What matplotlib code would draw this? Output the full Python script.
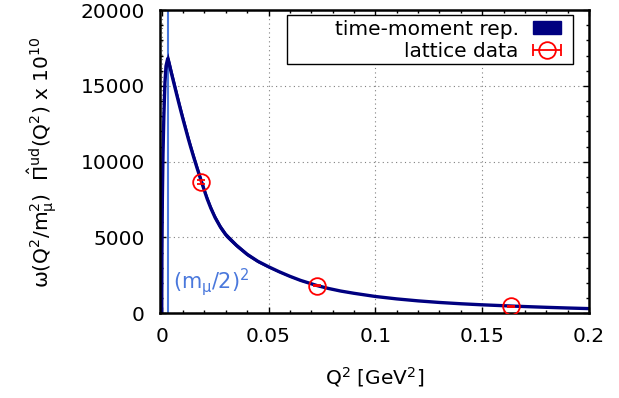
import matplotlib
matplotlib.use('Agg')
import numpy as np
import matplotlib.pyplot as plt
from matplotlib.patches import Patch, Rectangle
from matplotlib.legend_handler import HandlerErrorbar
from matplotlib.ticker import MultipleLocator, FuncFormatter

# band: Q^2 [GeV^2], centre and half width (x 1e10)
q2 = [0, 0.0001, 0.0003, 0.0006, 0.001, 0.0015, 0.002, 0.0028, 0.0035, 0.0045,
      0.006, 0.007, 0.008, 0.009, 0.010, 0.0115, 0.0125, 0.0135, 0.015, 0.0165,
      0.0185, 0.020, 0.0213, 0.023, 0.025, 0.0275, 0.030, 0.0316, 0.035, 0.040,
      0.045, 0.050, 0.055, 0.060, 0.065, 0.0727, 0.078, 0.0837, 0.090, 0.100,
      0.110, 0.120, 0.130, 0.140, 0.150, 0.1636, 0.170, 0.180, 0.190, 0.200]
band_mid = [0, 4000, 7500, 10500, 13000, 15200, 16300, 16800, 16450, 15850,
            15000, 14430, 13870, 13320, 12780, 12000, 11480, 10990, 10280, 9600,
            8720, 8080, 7540, 6930, 6310, 5680, 5180, 4950, 4480, 3890,
            3430, 3070, 2740, 2440, 2170, 1830, 1640, 1470, 1320, 1110,
            950, 820, 715, 630, 560, 480, 445, 395, 350, 310]
band_err = [0, 100, 200, 280, 330, 370, 390, 400, 390, 380,
            360, 350, 340, 335, 330, 320, 310, 300, 290, 275,
            260, 245, 235, 220, 200, 185, 170, 160, 140, 120,
            100, 85, 72, 62, 54, 45, 40, 35, 30, 25,
            22, 20, 16, 14, 12, 10, 9, 8, 7, 6]

# lattice points
lat_q2 = [0.0185, 0.0727, 0.1636]
lat_val = [8690, 1820, 450]
lat_err = [130, 30, 20]

mmu_half_sq = 0.00279  # (m_mu/2)^2 in GeV^2

plt.rcParams['font.family'] = 'DejaVu Sans'
plt.rcParams['mathtext.default'] = 'regular'
plt.rcParams['font.size'] = 14.5

navy = '#000080'
lblue = '#4a78dc'

fig = plt.figure(figsize=(6.19, 3.98), dpi=100)
ax = fig.add_axes([0.2585, 0.2128, 0.693, 0.762])

lower = [m - e for m, e in zip(band_mid, band_err)]
upper = [m + e for m, e in zip(band_mid, band_err)]
ax.fill_between(q2, lower, upper, color=navy, lw=0, zorder=2)
ax.plot(q2, band_mid, color=navy, lw=2.4, zorder=2, solid_joinstyle='round')

ax.axvline(mmu_half_sq, color=lblue, lw=1.5, zorder=1)
ax.text(0.0053, 1650, r'$(m_\mu/2)^2$', color=lblue, fontsize=15)

ax.errorbar(lat_q2, lat_val, yerr=lat_err, fmt='o', mfc='none', mec='red',
            ecolor='red', ms=12, mew=1.3, elinewidth=1.3, capsize=3, capthick=1.3,
            zorder=3)

ax.set_xlim(-0.0008, 0.2)
ax.set_ylim(0, 20000)
ax.xaxis.set_major_locator(MultipleLocator(0.05))
ax.xaxis.set_minor_locator(MultipleLocator(0.01))
ax.yaxis.set_major_locator(MultipleLocator(5000))
ax.yaxis.set_minor_locator(MultipleLocator(1000))
fmt = FuncFormatter(lambda v, p: '%g' % v)
ax.xaxis.set_major_formatter(fmt)
ax.yaxis.set_major_formatter(fmt)

ax.tick_params(which='both', direction='in', top=True, right=True, width=1)
ax.tick_params(which='major', length=4.5)
ax.tick_params(which='minor', length=2.5)
ax.tick_params(axis='x', pad=10)
ax.tick_params(axis='y', pad=11)
for s in ax.spines.values():
    s.set_linewidth(1.8)

ax.grid(True, which='major', ls=(0, (1, 3)), color='gray', lw=0.8)

ax.set_xlabel(r'$Q^2$ [GeV$^2$]')
ax.set_ylabel(r'$\omega(Q^2/m_\mu^2)\ \ \hat{\Pi}^{ud}(Q^2)$ x $10^{10}$')
ax.xaxis.set_label_coords(0.5, -0.17)
ax.yaxis.set_label_coords(-0.235, 0.5)

# gnuplot style key: wide box, text right aligned, key sample on the right
ax.add_patch(Rectangle((0.296, 0.822), 0.9627 - 0.296, 0.9835 - 0.822,
                       transform=ax.transAxes, fill=True, facecolor='white',
                       edgecolor='black', lw=1, zorder=4))
band_key = Patch(facecolor=navy, edgecolor=navy)
lat_key = ax.errorbar([np.nan], [np.nan], xerr=[1], fmt='o', mfc='none', mec='red',
                      ecolor='red', ms=12, mew=1.3, elinewidth=1.3, capsize=4,
                      capthick=1.3)
leg = ax.legend([band_key, lat_key], ['time-moment rep.', 'lattice data'],
                loc='upper right', bbox_to_anchor=(0.935, 0.968), borderaxespad=0,
                markerfirst=False, frameon=False, handlelength=1.4,
                handleheight=0.6, handletextpad=0.7, borderpad=0, labelspacing=0.15,
                handler_map={lat_key: HandlerErrorbar(xerr_size=0.7)})
leg.set_zorder(5)

fig.savefig('out.png', dpi=100)
